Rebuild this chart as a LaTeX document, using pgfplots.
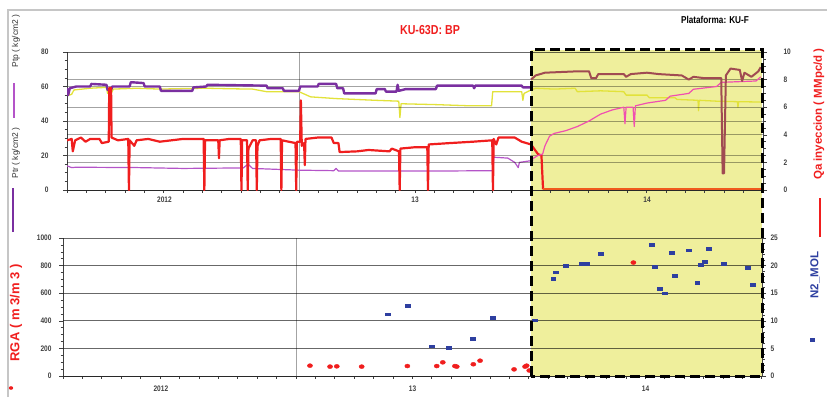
\documentclass[border=0pt]{standalone}
\usepackage{pgfplots}
\pgfplotsset{compat=1.18}
\usepackage{fontspec}
\setmainfont{Liberation Sans}[FakeStretch=0.82]
\newfontfamily\rotfont{Liberation Sans}
\definecolor{ptr}{HTML}{7A2FA0}
\definecolor{ptp}{HTML}{B454C8}
\definecolor{ylw}{HTML}{E2E23A}
\definecolor{qred}{HTML}{F01E1E}
\definecolor{qorange}{HTML}{F05A1E}
\definecolor{pnk}{HTML}{F04FB0}
\definecolor{brn}{HTML}{A04B52}
\definecolor{n2blue}{HTML}{2E3FA0}
\definecolor{hlyellow}{HTML}{EFEF9C}
\pgfplotsset{
  panel/.style={scale only axis, xmin=2012, xmax=2015,
    tick align=outside,
    /pgf/number format/assume math mode=true,
    /pgf/number format/set thousands separator={},
    tick label style={font=\bfseries\fontsize{8}{9}\selectfont, text=black!75},
    major tick length=4pt, minor tick length=2.5pt,
    grid style={black, opacity=0.36, line width=0.7pt},
    axis line style={black!75, line width=0.8pt},
    every tick/.style={black!75, line width=0.6pt},
    xtick={2012.42,2013.5,2014.5}, xticklabels={2012,13,14},
    every major x tick/.append style={draw=none},
    minor xtick={2012,2012.08333,...,2015.01},
    extra x ticks={2013}, extra x tick labels={},
    extra x tick style={grid=major},
  },
  rpanel/.style={scale only axis, xmin=2012, xmax=2015,
    axis x line=none, axis y line*=right, tick align=outside,
    /pgf/number format/assume math mode=true,
    /pgf/number format/set thousands separator={},
    tick label style={font=\bfseries\fontsize{8}{9}\selectfont, text=black!75},
    major tick length=4pt, minor tick length=2.5pt,
    grid style={black, opacity=0.36, line width=0.7pt},
    axis line style={black!75, line width=0.8pt},
    every tick/.style={black!75, line width=0.6pt},
    ymajorgrids,
  },
}
\begin{document}
\begin{tikzpicture}
\path[use as bounding box] (0pt,0pt) rectangle (827pt,397pt);
\fill[hlyellow] (531pt,21pt) rectangle (762pt,347pt);
\draw[gray!45, line width=1.5pt] (8pt,0pt) -- (8pt,387pt) -- (827pt,387pt);

% ---------------- top panel, left axis
\begin{axis}[panel, at={(67pt,207pt)}, anchor=south west, width=696pt, height=138pt,
  axis x line*=bottom, axis y line*=left,
  ymin=0, ymax=80, ytick={0,20,...,80}, minor y tick num=3, ymajorgrids,
  yticklabel style={xshift=-11pt}, xticklabel style={yshift=1pt}]
\addplot[ylw, line width=1.3pt, line join=round] coordinates {
(2012.00,58)(2012.01,55)(2012.02,55.5)(2012.03,58)(2012.10,59)(2012.17,59.5)(2012.175,56)(2012.19,56)(2012.20,58.5)
(2012.30,59)(2012.40,58.5)(2012.50,58.8)(2012.60,59)(2012.70,58.7)(2012.80,58.5)(2012.86,57)(2013.00,57)
(2013.05,54)(2013.16,53)(2013.33,52)(2013.43,51.5)(2013.435,42)(2013.44,50)(2013.59,49.5)(2013.74,48.8)
(2013.83,48.8)(2013.835,57)(2013.96,57)(2013.965,52)(2013.97,56)(2014.00,58)(2014.02,59)(2014.10,58.5)(2014.19,59)
(2014.20,57)(2014.30,57.5)(2014.40,57)(2014.41,55)(2014.50,55)(2014.51,53.5)(2014.62,53.5)(2014.63,52.5)(2014.72,52)
(2014.722,46)(2014.725,52)(2014.80,51.5)(2014.89,51.2)(2014.892,48)(2014.895,51.2)(2014.99,51)};
\addplot[ptr, line width=2.4pt, line join=round] coordinates {
(2012.00,59)(2012.005,55)(2012.012,59)(2012.04,60)(2012.10,60)(2012.105,61.5)(2012.17,61)(2012.175,58)(2012.19,58)
(2012.195,60)(2012.27,60)(2012.275,62.5)(2012.33,62)(2012.335,60)(2012.40,60)(2012.405,57.5)(2012.54,57.5)(2012.545,59.5)
(2012.60,60)(2012.605,61)(2012.86,60.5)(2012.865,59)(2012.93,59)(2012.935,57.5)(2013.00,57.5)(2013.005,60)(2013.08,60)
(2013.085,61.5)(2013.16,61.5)(2013.165,59)(2013.19,59)(2013.195,56)(2013.33,56)(2013.335,58.5)(2013.37,58.5)(2013.375,57)
(2013.42,57)(2013.425,61)(2013.43,57.5)(2013.46,58.5)(2013.59,58.5)(2013.595,60.5)(2013.75,60.5)(2013.755,59)(2013.76,60.5)
(2013.96,60.5)(2013.965,59.5)(2014.00,59.5)};
\addplot[ptp, line width=1.2pt, line join=round] coordinates {
(2012.00,14)(2012.02,13)(2012.04,13.2)(2012.30,13)(2012.50,12.5)(2012.76,12.8)(2012.78,15)(2012.80,12.5)(2013.00,11.5)
(2013.15,11.2)(2013.16,12.5)(2013.17,11)(2013.50,11)(2013.60,11)(2013.836,11.2)(2013.84,19)(2013.90,18.5)(2013.93,16)
(2013.945,13)(2013.95,16)(2014.00,17)(2014.01,17.5)};
\end{axis}

% ---------------- top panel, right axis
\begin{axis}[rpanel, at={(67pt,207pt)}, anchor=south west, width=696pt, height=138pt,
  ymin=0, ymax=10, ytick={0,2,...,10}, minor y tick num=3,
  yticklabel style={xshift=13pt}]
\addplot[qred, line width=2.2pt, line join=round] coordinates {
(2012.00,3.6)(2012.02,3.7)(2012.025,2.8)(2012.035,3.6)(2012.06,3.8)(2012.08,3.5)(2012.10,3.7)(2012.14,3.7)(2012.15,3.4)
(2012.18,3.5)(2012.182,7.4)(2012.19,7.4)(2012.192,3.8)(2012.22,3.6)(2012.264,3.7)(2012.267,0)(2012.270,3.6)(2012.29,3.2)
(2012.30,3.6)(2012.35,3.7)(2012.40,3.5)(2012.45,3.6)(2012.50,3.7)(2012.589,3.7)(2012.592,0)(2012.595,3.6)(2012.652,3.6)
(2012.655,2.3)(2012.658,3.6)(2012.70,3.7)(2012.749,3.7)(2012.752,0)(2012.755,3.6)(2012.776,3.6)(2012.779,0)(2012.782,3.0)
(2012.80,3.6)(2012.815,3.6)(2012.818,0)(2012.821,3.2)(2012.83,3.6)(2012.88,3.7)(2012.921,3.7)(2012.924,0)(2012.927,3.6)
(2012.985,3.4)(2012.988,0)(2012.991,3.5)(2013.005,3.5)(2013.008,6.5)(2013.012,3.2)(2013.022,3.4)(2013.025,1.8)(2013.028,3.7)
(2013.08,3.8)(2013.14,3.8)(2013.15,3.4)(2013.17,3.4)(2013.175,2.75)(2013.25,2.8)(2013.30,2.9)(2013.39,2.8)(2013.40,3.0)
(2013.431,2.8)(2013.434,0)(2013.437,3.0)(2013.50,3.1)(2013.553,3.1)(2013.556,0)(2013.559,3.3)(2013.65,3.4)(2013.75,3.5)
(2013.833,3.6)(2013.836,0)(2013.839,3.7)(2013.85,3.3)(2013.86,3.8)(2013.93,3.8)(2013.96,3.5)(2014.00,3.3)(2014.03,2.6)
(2014.045,2.5)(2014.052,0.05)};
\addplot[qorange, line width=2pt] coordinates {(2014.05,0.05)(2014.995,0.05)};
\addplot[pnk, line width=1.2pt, line join=round] coordinates {
(2014.00,2.2)(2014.03,2.5)(2014.05,2.6)(2014.06,3.2)(2014.08,3.9)(2014.10,4.1)(2014.15,4.3)(2014.20,4.6)(2014.25,5.0)
(2014.30,5.5)(2014.35,5.8)(2014.40,6.0)(2014.405,4.8)(2014.41,6.0)(2014.44,6.0)(2014.445,4.6)(2014.45,6.1)(2014.50,6.3)
(2014.58,6.5)(2014.60,6.8)(2014.68,7.0)(2014.70,7.3)(2014.80,7.5)(2014.82,7.8)(2014.97,7.9)(2014.99,8.2)};
\addplot[brn, line width=2pt, line join=round] coordinates {
(2014.00,8.0)(2014.02,8.3)(2014.06,8.5)(2014.20,8.6)(2014.25,8.6)(2014.26,8.1)(2014.28,8.1)(2014.29,8.4)(2014.40,8.4)
(2014.41,8.2)(2014.43,8.4)(2014.50,8.5)(2014.55,8.4)(2014.65,8.3)(2014.68,8.0)(2014.70,8.2)(2014.75,8.1)(2014.82,8.1)
(2014.826,1.2)(2014.832,1.2)(2014.84,8.3)(2014.86,8.8)(2014.90,8.7)(2014.91,7.9)(2014.92,8.5)(2014.95,8.2)(2014.98,8.6)(2014.99,8.9)};
\end{axis}

% ---------------- bottom panel, left axis
\begin{axis}[panel, at={(63pt,21pt)}, anchor=south west, width=699pt, height=138pt,
  axis x line*=bottom, axis y line*=left,
  ymin=0, ymax=1000, ytick={0,200,...,1000}, minor y tick num=3, ymajorgrids,
  yticklabel style={xshift=-4pt}, xticklabel style={yshift=-2pt}]
\addplot[only marks, mark=*, mark size=2pt, mark options={qred, xscale=1.3}] coordinates {
(2013.06,75)(2013.146,68)(2013.175,70)(2013.282,68)(2013.478,72)(2013.604,72)(2013.63,99)(2013.682,72)(2013.69,68)
(2013.761,85)(2013.79,111)(2013.936,48)(2013.983,68)(2013.99,75)(2014.001,40)(2014.448,822)};
\end{axis}

% ---------------- bottom panel, right axis
\begin{axis}[rpanel, at={(63pt,21pt)}, anchor=south west, width=699pt, height=138pt,
  ymin=0, ymax=25, ytick={0,5,...,25}, minor y tick num=4,
  yticklabel style={xshift=1pt}]
\addplot[only marks, mark=square*, mark size=1.6pt, mark options={n2blue, xscale=1.5, yscale=0.9}] coordinates {
(2013.393,11.2)(2013.478,12.7)(2013.581,5.4)(2013.657,5.2)(2013.758,6.8)(2013.843,10.6)(2014.026,10.1)
(2014.104,17.7)(2014.116,18.8)(2014.159,20.0)(2014.226,20.4)(2014.248,20.3)(2014.309,22.2)(2014.527,23.8)
(2014.541,19.8)(2014.562,15.8)(2014.584,15.0)(2014.612,22.4)(2014.627,18.2)(2014.687,22.8)(2014.722,16.9)
(2014.737,20.1)(2014.755,20.7)(2014.77,23.1)(2014.837,20.3)(2014.939,19.7)(2014.96,16.5)};
\end{axis}

\draw[black, line width=3pt, dash pattern=on 10pt off 5pt] (531pt,21pt) rectangle (762pt,347pt);

% titles and labels
\node[text=qred, font=\bfseries\fontsize{13}{14}\selectfont] at (430pt,367pt) {KU-63D: BP};
\node[text=black, font=\bfseries\fontsize{10}{11}\selectfont] at (715pt,377pt) {Plataforma: KU-F};
\node[rotate=90, font=\rotfont\fontsize{8.5}{9}\selectfont, text=black!80] at (16pt,356pt) {Ptp ( kg/cm2 )};
\draw[ptp, line width=1.2pt] (14pt,279pt) -- (14pt,314pt);
\node[rotate=90, font=\rotfont\fontsize{8.5}{9}\selectfont, text=black!80] at (16pt,244pt) {Ptr ( kg/cm2 )};
\draw[ptr, line width=2.4pt] (13pt,165pt) -- (13pt,209pt);
\node[rotate=90, font=\rotfont\bfseries\fontsize{13}{14}\selectfont, text=qred] at (16pt,84pt) {RGA ( m 3/m 3 )};
\fill[qred] (11pt,9pt) ellipse (2.2pt and 1.8pt);
\node[rotate=90, font=\rotfont\bfseries\fontsize{11.5}{12}\selectfont, text=qred] at (819pt,283pt) {Qa inyeccion ( MMpc/d )};
\draw[qred, line width=1.6pt] (820pt,160pt) -- (820pt,199pt);
\node[rotate=90, font=\rotfont\bfseries\fontsize{11.5}{12}\selectfont, text=n2blue] at (815pt,122pt) {N2\_MOL};
\fill[n2blue] (810pt,55pt) rectangle (815pt,59pt);
\end{tikzpicture}
\end{document}
